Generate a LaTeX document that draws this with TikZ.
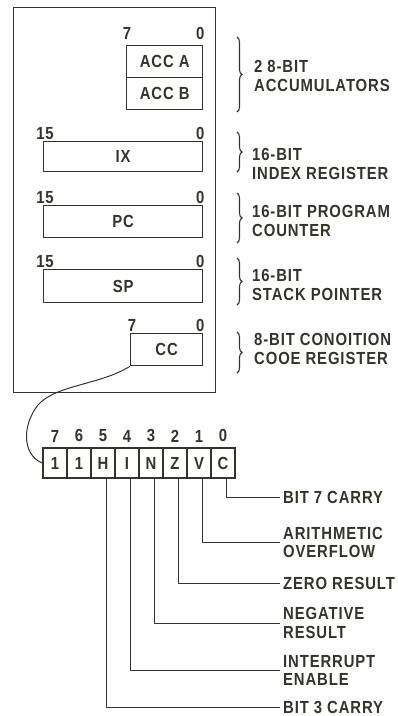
\documentclass[tikz,border=0pt]{standalone}
\usepackage{fontspec}
\setmainfont{Liberation Sans}[FakeStretch=0.85, LetterSpace=5]
\usetikzlibrary{positioning, decorations.pathreplacing}
\definecolor{ink}{HTML}{34342C}
\newcommand{\regfont}{\fontsize{17.5}{18.5}\selectfont\bfseries}
\tikzset{
    outer/.style={draw=ink, line width=1.4pt, anchor=north west, inner sep=0pt,
        minimum width=202pt, minimum height=385pt},
    reg/.style={draw=ink, line width=1.3pt, anchor=north west, inner sep=0pt},
    cell/.style={draw=ink, line width=1.3pt, inner sep=0pt,
        minimum width=24pt, minimum height=30pt},
    num/.style={inner sep=0pt},
    desc/.style={anchor=west, align=left, inner xsep=0pt, inner ysep=0pt},
    flag/.style={anchor=west, align=left, inner xsep=3pt, inner ysep=0pt},
    lead/.style={draw=ink, line width=1pt},
    grp/.style={draw=ink, line width=1.1pt, decorate,
        decoration={brace, amplitude=5pt}},
}
\begin{document}
\begin{tikzpicture}[x=1pt, y=-1pt, every node/.style={text=ink, font=\regfont}]
\useasboundingbox (0,0) rectangle (398,716);

% register set
\node[outer] (cpu) at (13,7) {};
\node[reg, minimum width=76pt, minimum height=32pt] (acca) at (126,45) {ACC A};
\node[reg, minimum width=76pt, minimum height=32pt] (accb) at (126,77) {ACC B};
\node[reg, minimum width=159pt, minimum height=30pt] (ix) at (43,141) {IX};
\node[reg, minimum width=159pt, minimum height=32pt] (pc) at (43,205) {PC};
\node[reg, minimum width=159pt, minimum height=33pt] (sp) at (43,269) {SP};
\node[reg, minimum width=72pt, minimum height=32pt] (cc) at (130,333) {CC};

% bit numbers
\node[num, above=5pt] at ([xshift=1pt]acca.north west) {7};
\node[num, above=5pt] at ([xshift=-3pt]acca.north east) {0};
\foreach \r in {ix,pc,sp}{
    \node[num, above=1pt] at ([xshift=2pt]\r.north west) {15};
    \node[num, above=1pt] at ([xshift=-3pt]\r.north east) {0};
}
\node[num, above=1pt] at ([xshift=2pt]cc.north west) {7};
\node[num, above=1pt] at ([xshift=-3pt]cc.north east) {0};

% groups
\draw[grp] (237,37) -- (237,112);
\draw[grp] (237,132) -- (237,172);
\draw[grp] (237,193) -- (237,243);
\draw[grp] (237,258) -- (237,305);
\draw[grp] (237,332) -- (237,373);
\node[desc] (d-acc) at (254,76) {2 8-BIT\\ACCUMULATORS};
\node[desc] (d-ix) at (252,164) {16-BIT\\INDEX REGISTER};
\node[desc] (d-pc) at (252,221) {16-BIT PROGRAM\\COUNTER};
\node[desc] (d-sp) at (252,285) {16-BIT\\STACK POINTER};
\node[desc] (d-cc) at (254,349) {8-BIT CONOITION\\COOE REGISTER};

% condition code bits
\foreach \lbl [count=\i from 0] in {1,1,H,I,N,Z,V,C}{
    \pgfmathtruncatemacro\bit{7-\i}
    \node[cell] (b\bit) at (55+24*\i,463) {\lbl};
    \node[num, above=5pt] at (b\bit.north) {\bit};
}
\draw[lead] (cc.south west) .. controls (100,385) and (55,385) .. (38,405)
    .. controls (22,425) and (22,455) .. (b7.west);

\node[flag] (f0) at (280,497) {BIT 7 CARRY};
\node[flag] (f1) at (280,542.5) {ARITHMETIC\\OVERFLOW};
\node[flag] (f2) at (280,583.5) {ZERO RESULT};
\node[flag] (f3) at (280,623) {NEGATIVE\\RESULT};
\node[flag] (f4) at (280,670.5) {INTERRUPT\\ENABLE};
\node[flag] (f5) at (280,707) {BIT 3 CARRY};
\foreach \b in {0,...,5}
    \draw[lead] ([xshift=3pt]b\b.south) |- (f\b.west);

\end{tikzpicture}
\end{document}
